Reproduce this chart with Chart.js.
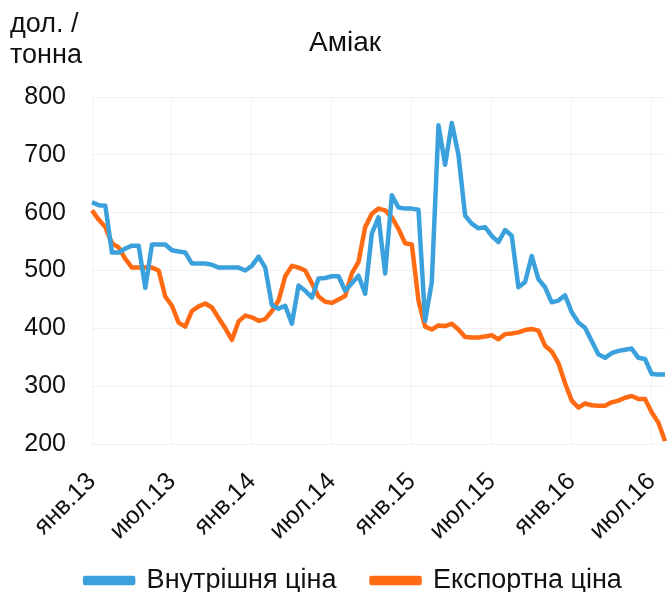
<!DOCTYPE html>
<html>
<head>
<meta charset="utf-8">
<script src="https://cdn.jsdelivr.net/npm/chart.js@4.4.1/dist/chart.umd.min.js"></script>
<style>
  html, body { margin: 0; padding: 0; background: #ffffff; }
  #wrap { width: 667px; height: 592px; position: relative; }
</style>
</head>
<body>
<div id="wrap"><canvas id="c" width="667" height="592"></canvas></div>
<script>
// Half-month observations, Jan 2013 .. Aug 2016
const startYear = 2013;
const tickLabels = ['янв.13', 'июл.13', 'янв.14', 'июл.14', 'янв.15', 'июл.15', 'янв.16', 'июл.16'];
const tickEvery = 12; // half-months between labelled ticks

const domesticPrice = [
  618, 613, 612, 531, 531, 538, 543, 543, 470, 545,
  545, 545, 535, 533, 531, 512, 512, 512, 510, 505,
  505, 505, 505, 500, 508, 524, 505, 440, 434, 439,
  408, 474, 465, 453, 486, 487, 490, 490, 465, 478,
  491, 460, 564, 592, 495, 630, 609, 607, 607, 605,
  413, 480, 751, 683, 755, 700, 595, 581, 573, 575,
  560, 549, 570, 560, 471, 480, 525, 485, 471, 445,
  448, 457, 428, 410, 401, 378, 355, 349, 357, 361,
  363, 365, 349, 347, 321, 320, 320
];

const exportPrice = [
  604, 588, 575, 547, 540, 520, 505, 505, 505, 505,
  500, 455, 439, 410, 403, 430, 438, 443, 436, 418,
  400, 380, 412, 422, 419, 413, 416, 430, 448, 490,
  508, 505, 500, 478, 455, 446, 444, 450, 456, 495,
  515, 575, 598, 607, 604, 592, 572, 547, 545, 448,
  403, 398, 405, 404, 408, 398, 385, 384, 384, 386,
  388, 381, 390, 391, 393, 397, 399, 396, 370, 360,
  340, 305, 275, 263, 270, 267, 266, 266, 272, 275,
  280, 283, 278, 278, 255, 237, 205
];

const seriesNames = ['Внутрішня ціна', 'Експортна ціна'];
const chartTitle = 'Аміак';
const unitLines = ['дол. /', 'тонна'];

const periods = domesticPrice.map((_, i) => {
  const y = startYear + Math.floor(i / 24);
  const m = Math.floor((i % 24) / 2) + 1;
  return y + '-' + String(m).padStart(2, '0') + (i % 2 ? 'b' : 'a');
});

const FONT = "'Liberation Sans', Arial, sans-serif";

const textPlugin = {
  id: 'textPlugin',
  afterLayout(chart) {
    // the legend in the reference sits slightly right of the page centre
    if (chart.legend) { chart.legend.left += 42; }
    // let the rotated month labels run below the axis box without clipping
    if (chart.scales.x) { chart.scales.x.bottom += 40; }
  },
  afterDraw(chart) {
    const ctx = chart.ctx;
    ctx.save();
    ctx.fillStyle = '#111';
    ctx.font = '28px ' + FONT;
    ctx.textBaseline = 'middle';
    ctx.textAlign = 'center';
    ctx.fillText(chartTitle, 345, 43);
    ctx.textAlign = 'left';
    ctx.font = '27px ' + FONT;
    ctx.fillText(unitLines[0], 10, 25);
    ctx.fillText(unitLines[1], 10, 56);
    ctx.restore();
  }
};

new Chart(document.getElementById('c'), {
  type: 'line',
  data: {
    labels: periods,
    datasets: [
      {
        label: seriesNames[0],
        data: domesticPrice,
        borderColor: '#3aa1dc',
        backgroundColor: '#3aa1dc',
        borderWidth: 4.5,
        pointRadius: 0,
        tension: 0,
        borderJoinStyle: 'round'
      },
      {
        label: seriesNames[1],
        data: exportPrice,
        borderColor: '#ff6a13',
        backgroundColor: '#ff6a13',
        borderWidth: 4.5,
        pointRadius: 0,
        tension: 0,
        borderJoinStyle: 'round'
      }
    ]
  },
  options: {
    responsive: false,
    animation: false,
    devicePixelRatio: 1,
    layout: { padding: { top: 97, right: 2, left: 0, bottom: -12 } },
    plugins: {
      title: { display: false },
      tooltip: { enabled: false },
      legend: {
        position: 'bottom',
        labels: {
          boxWidth: 48,
          boxHeight: 5,
          padding: 35,
          color: '#111',
          font: { family: FONT, size: 27 }
        }
      }
    },
    scales: {
      x: {
        type: 'category',
        offset: false,
        afterBuildTicks: (s) => { s.ticks = s.ticks.filter(t => t.value % tickEvery === 0); },
        afterFit: (s) => { s.height = 88; s.paddingRight = 0; s.paddingLeft = 0; },
        grid: { display: true, drawTicks: false, color: 'rgba(0,0,0,0.05)' },
        border: { display: false },
        ticks: {
          autoSkip: false,
          minRotation: 45,
          maxRotation: 45,
          padding: 23,
          color: '#111',
          font: { family: FONT, size: 25 },
          callback: (v) => tickLabels[v / tickEvery]
        }
      },
      y: {
        min: 200,
        max: 800,
        afterFit: (s) => { s.width = 92; },
        grid: { drawTicks: false, color: 'rgba(0,0,0,0.05)' },
        border: { display: false },
        ticks: {
          stepSize: 100,
          padding: 26,
          color: '#111',
          font: { family: FONT, size: 25 }
        }
      }
    }
  },
  plugins: [textPlugin]
});
</script>
</body>
</html>
